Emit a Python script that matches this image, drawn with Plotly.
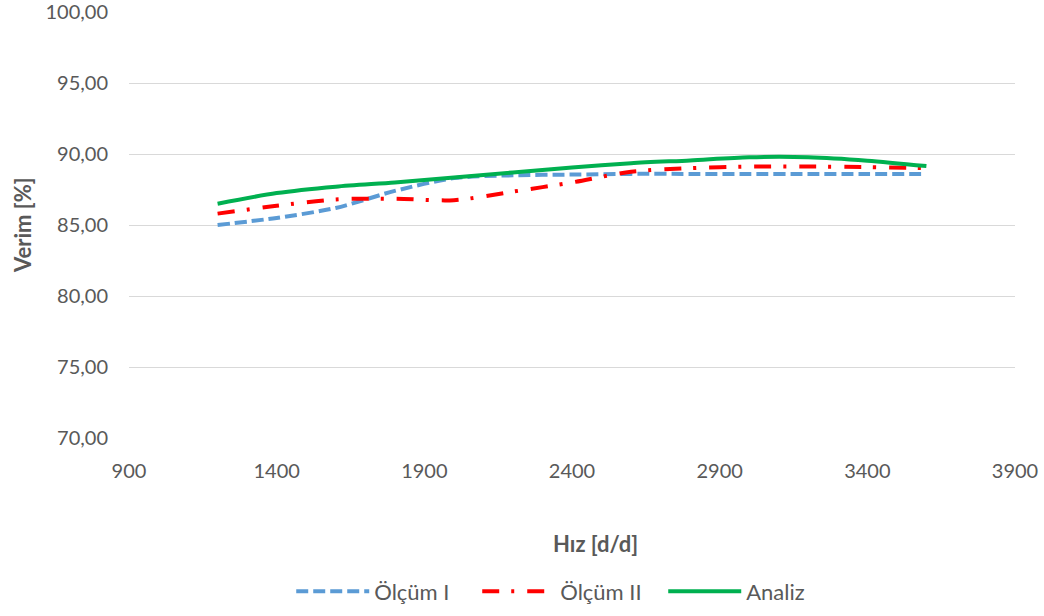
import plotly.graph_objects as go

# Hız (d/d) ve verim (%) değerleri
hiz = [1200, 1400, 1600, 1800, 2000, 2200, 2400, 2600, 2800, 3000, 3200, 3400, 3600]
olcum_1 = [85.00, 85.50, 86.20, 87.40, 88.30, 88.50, 88.55, 88.60, 88.60, 88.60, 88.60, 88.60, 88.60]
olcum_2 = [85.80, 86.35, 86.80, 86.85, 86.75, 87.35, 88.00, 88.75, 89.00, 89.12, 89.12, 89.08, 89.00]
analiz = [86.50, 87.25, 87.70, 88.00, 88.35, 88.70, 89.05, 89.35, 89.55, 89.77, 89.77, 89.53, 89.15]

x_ticks = [900, 1400, 1900, 2400, 2900, 3400, 3900]
y_ticks = [70, 75, 80, 85, 90, 95, 100]

FONT = "Lato, sans-serif"
TXT = "#595959"
GRID = "#d9d9d9"

fig = go.Figure()
fig.add_trace(go.Scatter(
    x=hiz, y=olcum_1, name="Ölçüm I", mode="lines",
    line=dict(color="#5B9BD5", width=4, dash="12px,5px", shape="spline", smoothing=0.8),
))
fig.add_trace(go.Scatter(
    x=hiz, y=olcum_2, name="Ölçüm II", mode="lines",
    line=dict(color="#FF0000", width=4, dash="17px,12px,3px,13px", shape="spline", smoothing=0.8),
))
fig.add_trace(go.Scatter(
    x=hiz, y=analiz, name="Analiz", mode="lines",
    line=dict(color="#00B050", width=4, shape="spline", smoothing=0.8),
))

fig.update_layout(
    width=1044, height=616,
    margin=dict(l=129, r=29, t=12, b=178, autoexpand=False),
    paper_bgcolor="white", plot_bgcolor="white",
    separators=",.",
    font=dict(family=FONT, size=20, color=TXT),
    showlegend=True,
    legend=dict(
        orientation="h", x=0.498, xanchor="center", y=-0.36, yanchor="middle",
        font=dict(family=FONT, size=22, color=TXT), itemwidth=73,
        entrywidth=98, traceorder="normal",
    ),
    xaxis=dict(
        range=[900, 3900], tickvals=x_ticks, ticktext=[str(v) for v in x_ticks],
        showgrid=False, zeroline=False, showline=False, ticks="", automargin=False,
        ticklabeloverflow="allow",
        tickfont=dict(family=FONT, size=20, color=TXT), ticklabelstandoff=19,
    ),
    yaxis=dict(
        range=[70, 100], tickvals=y_ticks, tickformat=".2f", automargin=False,
        ticklabeloverflow="allow",
        showgrid=True, gridcolor=GRID, gridwidth=1, zeroline=False, showline=False,
        ticks="", tickfont=dict(family=FONT, size=20, color=TXT), ticklabelstandoff=20,
    ),
    annotations=[
        dict(text="<b>Verim [%]</b>", xref="paper", yref="paper", x=-0.1208, y=0.5,
             textangle=-90, showarrow=False, xanchor="center", yanchor="middle",
             font=dict(family=FONT, size=22, color=TXT)),
        dict(text="<b>Hız [d/d]</b>", xref="paper", yref="paper", x=0.526, y=-0.247,
             showarrow=False, xanchor="center", yanchor="middle",
             font=dict(family=FONT, size=22, color=TXT)),
    ],
)

fig.write_html("out.html")
